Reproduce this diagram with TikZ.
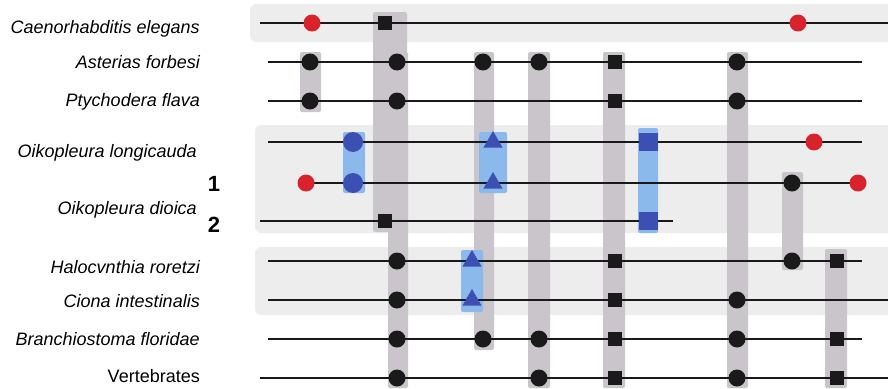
\documentclass[tikz,border=0pt]{standalone}
\usepackage{fontspec}
\setmainfont{Liberation Sans}
\usetikzlibrary{shapes.geometric}
\definecolor{bandgrey}{HTML}{EDEDED}
\definecolor{bargrey}{HTML}{C9C5CB}
\definecolor{barblue}{HTML}{8CB9EB}
\definecolor{markblue}{HTML}{3C50B4}
\definecolor{markred}{HTML}{D8232D}
\definecolor{markblack}{HTML}{1A1A1A}
\tikzset{
  band/.style={fill=bandgrey, rounded corners=6pt},
  greybar/.style={fill=bargrey, rounded corners=2pt},
  bluebar/.style={fill=barblue, rounded corners=2pt},
  track/.style={line width=2.4pt, draw=black!90},
  dotk/.style={circle, fill=markblack, inner sep=0pt, minimum size=17pt},
  sqk/.style={rectangle, fill=markblack, inner sep=0pt, minimum size=14pt},
  dotr/.style={circle, fill=markred, inner sep=0pt, minimum size=17pt},
  dotb/.style={circle, fill=markblue, inner sep=0pt, minimum size=20pt},
  trib/.style={regular polygon, regular polygon sides=3, fill=markblue, inner sep=0pt, minimum size=22pt},
  sqb/.style={rectangle, fill=markblue, inner sep=0pt, minimum width=19pt, minimum height=18pt},
  taxon/.style={anchor=base east, inner sep=0pt, font=\fontsize{18}{20}\selectfont\itshape},
  group/.style={anchor=base east, inner sep=0pt, font=\fontsize{18}{20}\selectfont},
  num/.style={anchor=base, inner sep=0pt, font=\fontsize{22}{24}\selectfont\bfseries}
}
\begin{document}
\begin{tikzpicture}[x=1pt, y=-1pt]
\useasboundingbox (0,0) rectangle (888,388);

% shaded groups
\fill[band] (250,4) rectangle (900,42);
\fill[band] (255,125) rectangle (900,233);
\fill[band] (255,247) rectangle (900,315);

% grey character columns
\fill[greybar] (300,52) rectangle (321,112);
\fill[greybar] (373,12) rectangle (407,232);
\fill[greybar] (388,52) rectangle (408,388);
\fill[greybar] (474,52) rectangle (494,350);
\fill[greybar] (528,52) rectangle (550,388);
\fill[greybar] (603,52) rectangle (625,388);
\fill[greybar] (727,52) rectangle (748,388);
\fill[greybar] (782,172) rectangle (803,270);
\fill[greybar] (825,249) rectangle (847,388);

% blue character columns
\fill[bluebar] (343,132) rectangle (365,193);
\fill[bluebar] (479,132) rectangle (507,193);
\fill[bluebar] (461,250) rectangle (483,312);
\fill[bluebar] (638,128) rectangle (658,233);

% track end points
\coordinate (ce-l) at (260,23);  \coordinate (ce-r) at (888,23);
\coordinate (af-l) at (268,62);  \coordinate (af-r) at (862,62);
\coordinate (pf-l) at (268,101); \coordinate (pf-r) at (862,101);
\coordinate (ol-l) at (268,142); \coordinate (ol-r) at (862,142);
\coordinate (od1-l) at (306,183); \coordinate (od1-r) at (858,183);
\coordinate (od2-l) at (260,221); \coordinate (od2-r) at (673,221);
\coordinate (hr-l) at (268,261); \coordinate (hr-r) at (862,261);
\coordinate (ci-l) at (268,300); \coordinate (ci-r) at (888,300);
\coordinate (bf-l) at (268,339); \coordinate (bf-r) at (862,339);
\coordinate (ve-l) at (260,378); \coordinate (ve-r) at (888,378);

\foreach \t in {ce,af,pf,ol,od1,od2,hr,ci,bf,ve}
  \draw[track] (\t-l) -- (\t-r);

% black characters
\foreach \y [count=\i] in {62,101} \node[dotk] (a-\i) at (310,\y) {};
\foreach \y [count=\i] in {23,221} \node[sqk] (bs-\i) at (385,\y) {};
\foreach \y [count=\i] in {62,101,261,300,339,378} \node[dotk] (bc-\i) at (397,\y) {};
\foreach \y [count=\i] in {62,339} \node[dotk] (c-\i) at (483,\y) {};
\foreach \y [count=\i] in {62,339,378} \node[dotk] (d-\i) at (539,\y) {};
\foreach \y [count=\i] in {62,101,261,300,339,378} \node[sqk] (e-\i) at (615,\y) {};
\foreach \y [count=\i] in {62,101,300,339,378} \node[dotk] (g-\i) at (737,\y) {};
\foreach \y [count=\i] in {183,261} \node[dotk] (h-\i) at (792,\y) {};
\foreach \y [count=\i] in {261,339,378} \node[sqk] (k-\i) at (837,\y) {};

% blue characters
\foreach \y [count=\i] in {142,183} \node[dotb] (bl-\i) at (353,\y) {};
\foreach \y [count=\i] in {142,183} \node[trib] (tu-\i) at (493,\y) {};
\foreach \y [count=\i] in {261,300} \node[trib] (tl-\i) at (472,\y) {};
\foreach \y [count=\i] in {142,221} \node[sqb] (f-\i) at (648,\y) {};

% red characters
\node[dotr] (r-1) at (312,23) {};
\node[dotr] (r-2) at (798,23) {};
\node[dotr] (r-3) at (814,142) {};
\node[dotr] (r-4) at (od1-l) {};
\node[dotr] (r-5) at (od1-r) {};

% taxon names
\node[taxon] (n-ce) at (200,33) {Caenorhabditis elegans};
\node[taxon] (n-af) at (200,68) {Asterias forbesi};
\node[taxon] (n-pf) at (200,106) {Ptychodera flava};
\node[taxon] (n-ol) at (197,157) {Oikopleura longicauda};
\node[taxon] (n-od) at (197,214) {Oikopleura dioica};
\node[taxon] (n-hr) at (200,273) {Halocvnthia roretzi};
\node[taxon] (n-ci) at (200,307) {Ciona intestinalis};
\node[taxon] (n-bf) at (200,345) {Branchiostoma floridae};
\node[group] (n-ve) at (200,382) {Vertebrates};
\node[num] (num-1) at (214,191) {1};
\node[num] (num-2) at (214,232) {2};
\end{tikzpicture}
\end{document}
